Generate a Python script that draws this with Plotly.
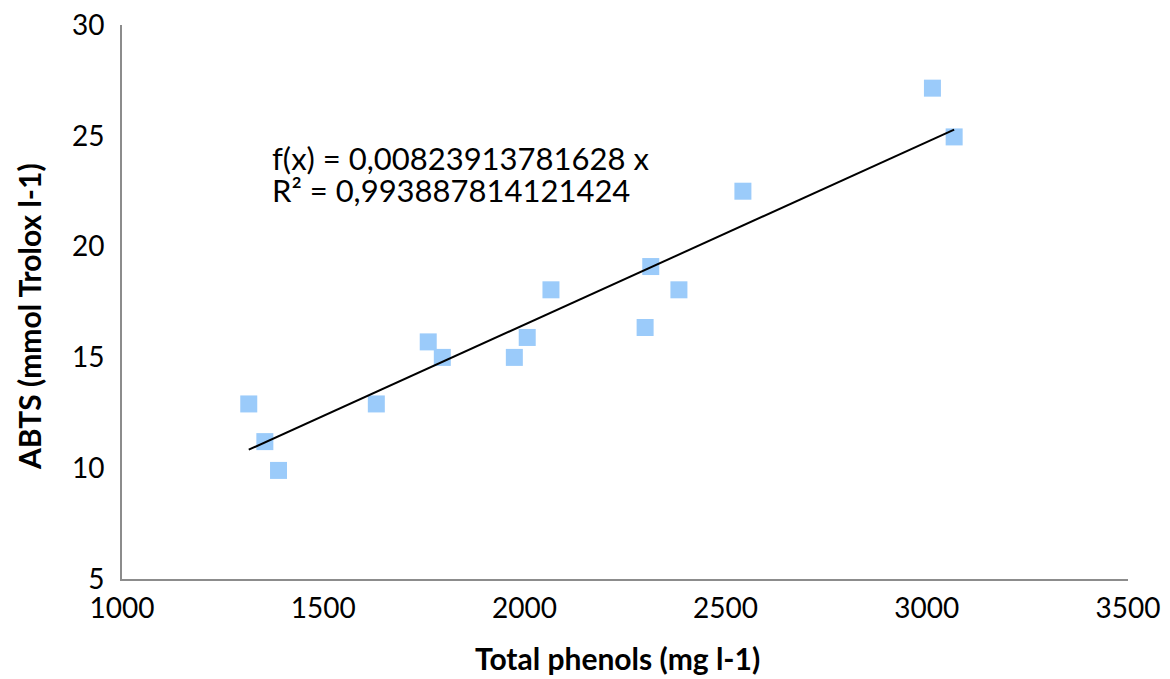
import numpy as np
import plotly.graph_objects as go

total_phenols = [1315, 1355, 1389, 1632, 1761, 1796, 1975, 2007, 2066, 2300, 2314, 2384, 2543, 3014, 3068]
abts = [12.9, 11.2, 9.9, 12.9, 15.7, 15.0, 15.0, 15.9, 18.05, 16.35, 19.1, 18.05, 22.5, 27.15, 24.95]
slope = 0.00823913781628
r2_text = "0,993887814121424"
slope_text = "0,00823913781628"

x_ticks = [1000, 1500, 2000, 2500, 3000, 3500]
y_ticks = [5, 10, 15, 20, 25, 30]

x_title = "Total phenols (mg l-1)"
y_title = "ABTS (mmol Trolox l-1)"

font_family = "Lato, 'Open Sans', sans-serif"

# page body has an 8px margin; figure sized to reach the window's right/bottom edges
OFF = 8
W, H = 1170 - OFF, 679 - OFF
L, T = 122 - OFF, 25 - OFF
R = W - (1128 - OFF)
B = H - (579 - OFF)
pw, ph = W - L - R, H - T - B

fig = go.Figure()
fig.add_trace(go.Scatter(
    x=total_phenols, y=abts, mode="markers",
    marker=dict(symbol="square", size=17, color="#9BCBFA", line=dict(width=0)),
    showlegend=False, hoverinfo="x+y",
))
xl = np.array([min(total_phenols), max(total_phenols)])
fig.add_trace(go.Scatter(
    x=xl, y=slope * xl, mode="lines",
    line=dict(color="black", width=2), showlegend=False,
))
fig.add_annotation(
    x=1368, y=24.0, xref="x", yref="y", xanchor="left", yanchor="middle",
    text=f"f(x) = {slope_text} x", showarrow=False,
    font=dict(size=31, color="black", family=font_family),
)
fig.add_annotation(
    x=1368, y=22.55, xref="x", yref="y", xanchor="left", yanchor="middle",
    text=f"R² = {r2_text}", showarrow=False,
    font=dict(size=31, color="black", family=font_family),
)
fig.add_annotation(
    x=(617 - OFF - L) / pw, y=(H - B - (658 - OFF)) / ph, xref="paper", yref="paper",
    showarrow=False, text=f"<b>{x_title}</b>",
    font=dict(size=30, color="black", family=font_family),
    xanchor="center", yanchor="middle",
)
fig.add_annotation(
    x=(29 - OFF - L) / pw, y=(H - B - (317 - OFF)) / ph, xref="paper", yref="paper",
    showarrow=False, text=f"<b>{y_title}</b>", textangle=-90,
    font=dict(size=30, color="black", family=font_family),
    xanchor="center", yanchor="middle",
)

fig.update_layout(
    width=W, height=H,
    margin=dict(l=L, r=R, t=T, b=B),
    paper_bgcolor="white", plot_bgcolor="white",
    font=dict(family=font_family, color="black"),
    xaxis=dict(range=[1000, 3500], tickvals=x_ticks, showgrid=False, zeroline=False,
               showline=True, linecolor="#8c8c8c", linewidth=2, ticks="",
               tickfont=dict(size=28), ticklabelstandoff=3, automargin=False,
               ticklabeloverflow="allow"),
    yaxis=dict(range=[5, 30], tickvals=y_ticks, showgrid=False, zeroline=False,
               showline=True, linecolor="#8c8c8c", linewidth=2, ticks="",
               tickfont=dict(size=28), ticklabelstandoff=10, automargin=False,
               ticklabeloverflow="allow"),
)
fig.write_html("out.html")
